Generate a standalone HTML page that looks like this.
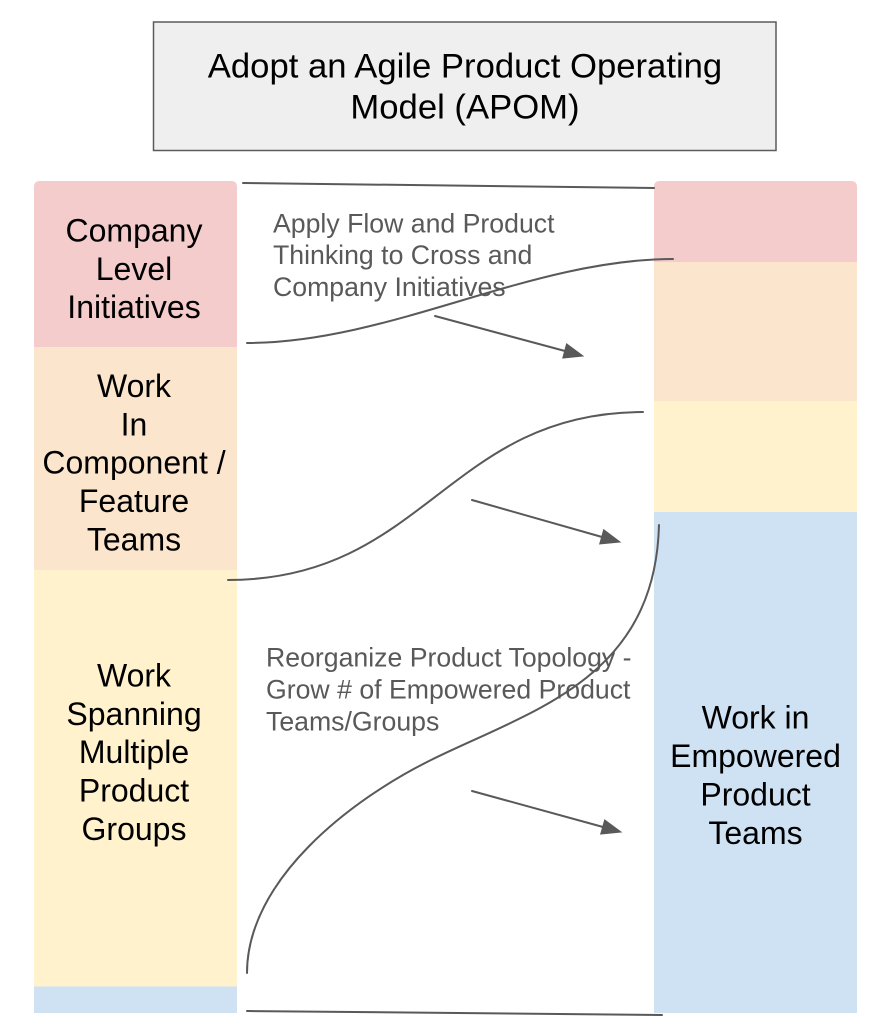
<!DOCTYPE html>
<html>
<head>
<meta charset="utf-8">
<style>
  html, body { margin: 0; padding: 0; background: #ffffff; }
  body { width: 884px; height: 1024px; overflow: hidden; }
  svg { display: block; }
  text { font-family: "Liberation Sans", Arial, sans-serif; }
</style>
</head>
<body>
<svg width="884" height="1024" viewBox="0 0 884 1024" xmlns="http://www.w3.org/2000/svg">
  <defs>
    <clipPath id="lc">
      <path d="M34,187 Q34,181 40,181 L231,181 Q237,181 237,187 L237,1013 L34,1013 Z"/>
    </clipPath>
    <clipPath id="rc">
      <path d="M654,187 Q654,181 660,181 L851,181 Q857,181 857,187 L857,1013 L654,1013 Z"/>
    </clipPath>
  </defs>

  <!-- Title box -->
  <rect x="153.5" y="22" width="622.5" height="128.5" fill="#efefef" stroke="#5b5b5b" stroke-width="1.5"/>
  <text x="465" y="77.7" font-size="34.67" text-anchor="middle" fill="#000">Adopt an Agile Product Operating</text>
  <text x="465" y="118.5" font-size="34.67" text-anchor="middle" fill="#000">Model (APOM)</text>

  <!-- Left column -->
  <g clip-path="url(#lc)">
    <rect x="34" y="181" width="203" height="166" fill="#f4cccc"/>
    <rect x="34" y="347" width="203" height="223" fill="#fce5cd"/>
    <rect x="34" y="570" width="203" height="417" fill="#fff2cc"/>
    <rect x="34" y="986.5" width="203" height="27" fill="#cfe2f3"/>
  </g>

  <!-- Right column -->
  <g clip-path="url(#rc)">
    <rect x="654" y="181" width="203" height="81" fill="#f4cccc"/>
    <rect x="654" y="262" width="203" height="139" fill="#fce5cd"/>
    <rect x="654" y="401" width="203" height="111" fill="#fff2cc"/>
    <rect x="654" y="512" width="203" height="501" fill="#cfe2f3"/>
  </g>

  <!-- Left labels -->
  <g font-size="32" fill="#000" text-anchor="middle">
    <text x="134" y="241.5">Company</text>
    <text x="134" y="279.8">Level</text>
    <text x="134" y="318.2">Initiatives</text>

    <text x="134" y="397">Work</text>
    <text x="134" y="435.3">In</text>
    <text x="134" y="473.7">Component /</text>
    <text x="134" y="512">Feature</text>
    <text x="134" y="550.3">Teams</text>

    <text x="134" y="686.5">Work</text>
    <text x="134" y="724.8">Spanning</text>
    <text x="134" y="763.2">Multiple</text>
    <text x="134" y="801.5">Product</text>
    <text x="134" y="839.8">Groups</text>

    <text x="755.5" y="728.5">Work in</text>
    <text x="755.5" y="767">Empowered</text>
    <text x="755.5" y="805.5">Product</text>
    <text x="755.5" y="844">Teams</text>
  </g>

  <!-- Gray annotation texts -->
  <g font-size="26.67" fill="#595959">
    <text x="273" y="232.5">Apply Flow and Product</text>
    <text x="273" y="264">Thinking to Cross and</text>
    <text x="273" y="296">Company Initiatives</text>

    <text x="266" y="666.5">Reorganize Product Topology -</text>
    <text x="266" y="698.5">Grow # of Empowered Product</text>
    <text x="266" y="730.5">Teams/Groups</text>
  </g>

  <!-- Connectors -->
  <g fill="none" stroke="#595959" stroke-width="2" stroke-linecap="round">
    <path d="M243,183 L654,188"/>
    <path d="M247,343 C390,343 530,259 673,259"/>
    <path d="M228,580 C425,580 448,412 643,412"/>
    <path d="M247,973 C247,880 350,800 431,760 C530,711 655,680 659,525"/>
    <path d="M247,1011 L662,1015"/>

    <!-- arrow shafts -->
    <path d="M435,316 L565,351"/>
    <path d="M472,500 L602,537"/>
    <path d="M472,791 L603,827"/>
  </g>

  <!-- Arrowheads -->
  <g fill="#595959" stroke="#595959" stroke-width="1" stroke-linejoin="miter">
    <polygon points="583,356 562.8,358.1 566.6,343.9"/>
    <polygon points="620,542 599.7,543.9 603.7,529.7"/>
    <polygon points="621,832 600.7,834.1 604.7,819.9"/>
  </g>
</svg>
</body>
</html>
